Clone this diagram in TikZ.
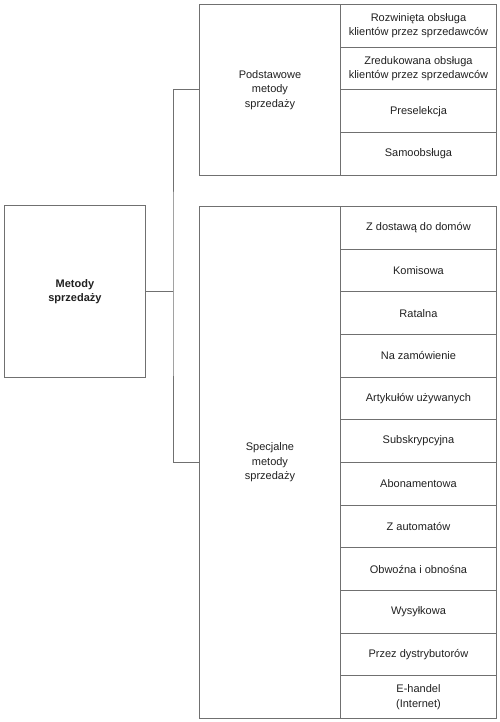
\documentclass[tikz,border=0pt]{standalone}
\usepackage{fontspec}
\setmainfont{Liberation Sans}
\definecolor{linec}{HTML}{707070}
\definecolor{textc}{HTML}{202020}
\begin{document}
\begin{tikzpicture}[x=1pt,y=-1pt,
  box/.style={draw=linec,line width=0.9pt,minimum width=#1,inner sep=0pt,anchor=north west,text=textc,align=center,font=\fontsize{11}{14.5}\selectfont},
  conn/.style={draw=linec,line width=0.9pt}]
\useasboundingbox (0,0) rectangle (500,722);
\node[box=141pt,minimum height=172pt,font=\fontsize{11}{14.5}\selectfont\bfseries] (root) at (4,205) {Metody\\sprzedaży};
\node[box=141pt,minimum height=171pt] (pod) at (199,4) {Podstawowe\\metody\\sprzedaży};
\node[box=141pt,minimum height=512pt] (spe) at (199,206) {Specjalne\\metody\\sprzedaży};
\foreach \t [count=\i from 0] in {{Rozwinięta obsługa\\klientów przez sprzedawców},{Zredukowana obsługa\\klientów przez sprzedawców},{Preselekcja},{Samoobsługa}}{
  \node[box=156pt,minimum height=42.75pt] (p\i) at (340,4+42.75*\i) {\t};
}
\foreach \t [count=\i from 0] in {{Z dostawą do domów},{Komisowa},{Ratalna},{Na zamówienie},{Artykułów używanych},{Subskrypcyjna},{Abonamentowa},{Z automatów},{Obwoźna i obnośna},{Wysyłkowa},{Przez dystrybutorów},{E-handel\\(Internet)}}{
  \node[box=156pt,minimum height=42.667pt] (s\i) at (340,206+42.667*\i) {\t};
}
\coordinate (j) at (173,291.5);
\draw[conn] (root.east) -- (j);
\draw[conn] (pod.west) -| (j) |- (spe.west);
\end{tikzpicture}
\end{document}
